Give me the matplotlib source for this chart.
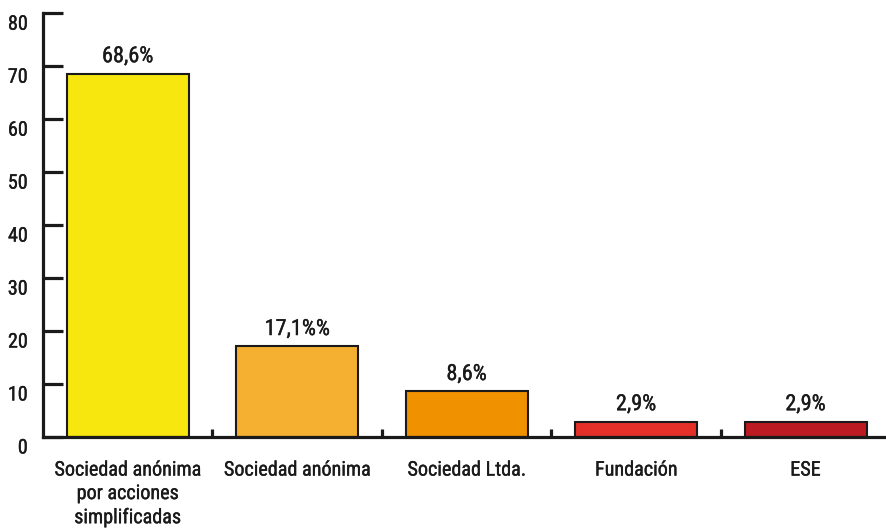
import matplotlib
matplotlib.use("Agg")
import matplotlib.pyplot as plt
import matplotlib.patheffects as pe
import matplotlib.transforms as mtransforms
from matplotlib.ticker import FixedLocator

categories = ["Sociedad anónima\npor acciones\nsimplificadas", "Sociedad anónima",
              "Sociedad Ltda.", "Fundación", "ESE"]
values = [68.6, 17.1, 8.6, 2.9, 2.9]
labels = ["68,6%", "17,1%%", "8,6%", "2,9%", "2,9%"]
colors = ["#F7E70F", "#F5B031", "#F09100", "#E5302A", "#BC1A22"]

ink = "#1a1a1a"
plt.rcParams["font.family"] = ["Roboto Condensed", "DejaVu Sans"]
# a touch heavier than the regular cut
thick = [pe.withStroke(linewidth=0.25, foreground=ink)]

fig = plt.figure(figsize=(8.86, 5.29), dpi=100)
ax = fig.add_axes([0.0485, 0.174, 0.9515, 0.801])

x = list(range(len(values)))
bars = ax.bar(x, values, width=0.72, color=colors, edgecolor=ink, linewidth=1.5, zorder=2)

for b, txt in zip(bars, labels):
    ax.text(b.get_x() + b.get_width() / 2, b.get_height() + 1.2, txt,
            ha="center", va="bottom", fontsize=16, color=ink, path_effects=thick)

ax.set_xlim(-0.5, 4.475)
ax.set_ylim(0, 80)

ax.set_yticks(range(0, 81, 10))
ax.tick_params(axis="y", direction="in", length=14.5, width=2.3, labelsize=14.5, pad=11, colors=ink)
offset = mtransforms.ScaledTranslation(0, -9 / 100, fig.dpi_scale_trans)
for lab in ax.get_yticklabels():
    lab.set_transform(lab.get_transform() + offset)
    lab.set_path_effects(thick)

ax.set_xticks(x)
ax.set_xticklabels(categories, fontsize=14.5, linespacing=1.3)
ax.tick_params(axis="x", length=0, pad=17, colors=ink)
for lab in ax.get_xticklabels():
    lab.set_path_effects(thick)
ax.xaxis.set_minor_locator(FixedLocator([0.5, 1.5, 2.5, 3.5]))
ax.tick_params(axis="x", which="minor", direction="in", length=6, width=2.3, color=ink)

for side in ["top", "right"]:
    ax.spines[side].set_visible(False)
for side in ["left", "bottom"]:
    ax.spines[side].set_linewidth(2.3)
    ax.spines[side].set_color(ink)

fig.savefig("out.png", dpi=100)
